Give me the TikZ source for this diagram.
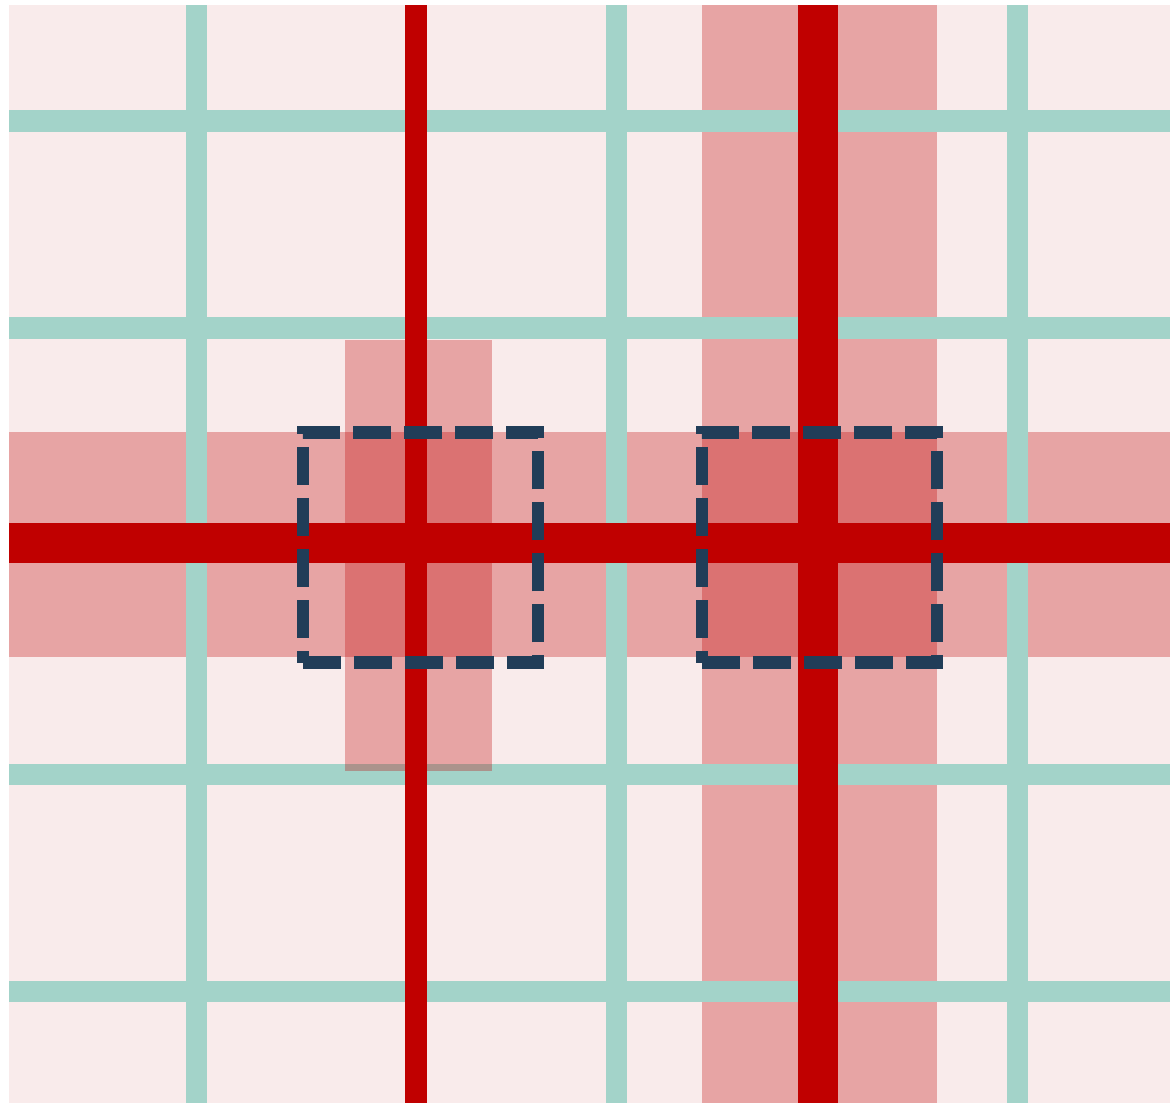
\documentclass[tikz,border=0pt]{standalone}
\usepackage{tikz}
\usetikzlibrary{calc}

\definecolor{paperpink}{RGB}{249,235,235}
\definecolor{gridteal}{RGB}{163,211,201}
\definecolor{maskred}{RGB}{192,0,0}
\definecolor{probenavy}{RGB}{33,61,88}

\begin{document}
\begin{tikzpicture}[
  x=0.01cm, y=-0.01cm,
  gridline/.style={draw=gridteal, line width=2.1mm},
  cutline/.style={draw=maskred, line width=#1},
  band/.style={fill=maskred, fill opacity=0.3},
  probe/.style={draw=probenavy, line width=1.25mm, dash pattern=on 3.8mm off 1.3mm}
]

\useasboundingbox (0,0) rectangle (1170,1103);

\coordinate (sheetnw) at (9,5);
\coordinate (sheetse) at (1170,1103);
\fill[paperpink] (sheetnw) rectangle (sheetse);

% wide bands sit under the grid
\fill[band] (702,5) rectangle (937,1103);
\fill[band] (9,432) rectangle (1170,657);

% teal grid
\foreach \x in {196.5,616,1017.5} {
  \draw[gridline] (\x,5) -- (\x,1103);
}
\foreach \y in {121,328,774.5,991.5} {
  \draw[gridline] (9,\y) -- (1170,\y);
}

% the short band is laid over the grid
\fill[band] (345,340) rectangle (492,771);

% red cut lines
\draw[cutline=2.15mm] (416,5) -- (416,1103);
\draw[cutline=4mm] (818,5) -- (818,1103);
\draw[cutline=4mm] (9,543) -- (1170,543);

% dashed windows, traced from the lower left corner
\foreach \x in {303,702} {
  \draw[probe] (\x,662.5) -- ++(235,0) -- ++(0,-230) -- ++(-235,0) -- ++(0,230);
}

\end{tikzpicture}
\end{document}
